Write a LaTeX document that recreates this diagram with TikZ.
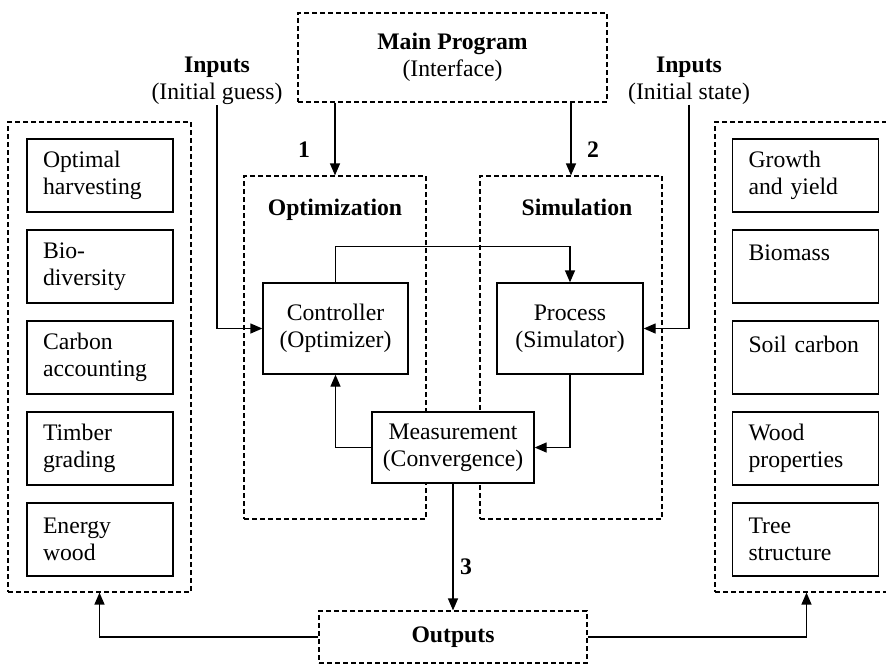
\documentclass[tikz,border=0pt]{standalone}
\usepackage{fontspec}
\setmainfont{Liberation Serif}
\usetikzlibrary{arrows.meta}

\begin{document}
\begin{tikzpicture}[x=1pt,y=-1pt,
        font=\fontsize{23.7}{27}\selectfont,
        panel/.style={draw,line width=1.2pt,dash pattern=on 5pt off 3pt,inner sep=0pt},
        block/.style={draw,line width=1.3pt,fill=white,align=center,inner sep=0pt},
        item/.style={draw,line width=1.3pt,text width=114pt,align=left,
            inner xsep=16pt,inner ysep=0pt,minimum height=73pt},
        arr/.style={line width=1.3pt,-{Triangle[length=12pt,width=10pt]}}]
    \useasboundingbox (0,0) rectangle (886,665);
    \clip (0,0) rectangle (886,665);

    % dashed frames
    \node[panel,minimum width=309pt,minimum height=89pt,align=center] (main) at (452.5,57.5)
        {\textbf{Main Program}\\(Interface)};
    \node[panel,minimum width=182pt,minimum height=343pt] (optim) at (335,347.5) {};
    \node[panel,minimum width=182pt,minimum height=343pt] (simul) at (571,347.5) {};
    \node[panel,minimum width=183pt,minimum height=470pt] (goals) at (99.5,357) {};
    \node[panel,minimum width=183pt,minimum height=470pt] (models) at (806.5,357) {};
    \node[panel,minimum width=268pt,minimum height=52pt] (outp) at (453,637) {\textbf{Outputs}};

    \node[anchor=base] (optT) at (335,215) {\textbf{Optimization}};
    \node[anchor=base] (simT) at (577,215) {\textbf{Simulation}};
    \node[anchor=south,inner sep=0pt,align=center] (inL) at (217,105)
        {\textbf{Inputs}\\(Initial guess)};
    \node[anchor=south,inner sep=0pt,align=center] (inR) at (689,104.5)
        {\textbf{Inputs}\\(Initial state)};

    % control loop
    \node[block,minimum width=145pt,minimum height=91pt] (ctrl) at (335.5,328.5)
        {Controller\\(Optimizer)};
    \node[block,minimum width=146pt,minimum height=91pt] (proc) at (570,328.5)
        {Process\\(Simulator)};
    \node[block,minimum width=162pt,minimum height=71pt] (meas) at (453,447.5)
        {Measurement\\(Convergence)};

    % left column
    \node[item] (g1) at (100,175.5) {Optimal\\harvesting};
    \node[item] (g2) at (100,266.5) {Bio-\\diversity};
    \node[item] (g3) at (100,357.5) {Carbon\\accounting};
    \node[item] (g4) at (100,448.5) {Timber\\grading};
    \node[item] (g5) at (100,539.5) {Energy\\wood};

    % right column
    \node[item] (m1) at (805.5,175.5) {Growth\\and yield};
    \node[item] (m2) at (805.5,266.5) {Biomass\\\mbox{}};
    \node[item] (m3) at (805.5,357.5) {Soil carbon\\\mbox{}};
    \node[item] (m4) at (805.5,448.5) {Wood\\properties};
    \node[item] (m5) at (805.5,539.5) {Tree\\structure};

    % connectors
    \draw[arr] (main.south -| optim.north) -- (optim.north);
    \draw[arr] (main.south -| simul.north) -- (simul.north);
    \node[anchor=base] (n1) at (304,157) {\textbf{1}};
    \node[anchor=base] (n2) at (593,157) {\textbf{2}};
    \draw[arr] (inL.south) |- (ctrl.west);
    \draw[arr] (inR.south) |- (proc.east);
    \draw[arr] (ctrl.north) -- ++(0,-36) -| (proc.north);
    \draw[arr] (proc.south) |- (meas.east);
    \draw[arr] (meas.west) -| (ctrl.south);
    \draw[arr] (meas.south) -- (outp.north);
    \node[anchor=base] (n3) at (466,574) {\textbf{3}};
    \draw[arr] (outp.west) -| (goals.south);
    \draw[arr] (outp.east) -| (models.south);
\end{tikzpicture}
\end{document}
